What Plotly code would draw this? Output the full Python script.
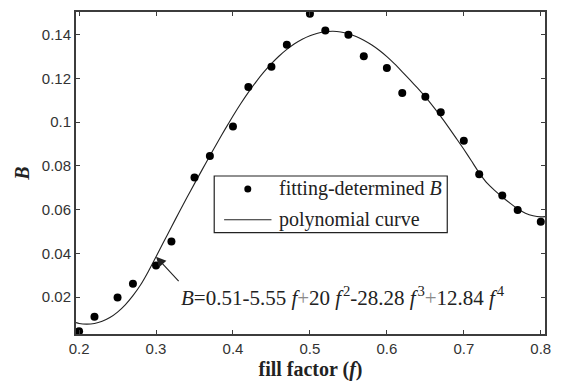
import plotly.graph_objects as go

# fill factor vs. fitted B
fill_factor = [0.20, 0.22, 0.25, 0.27, 0.30, 0.32, 0.35, 0.37, 0.40, 0.42, 0.45, 0.47, 0.50,
               0.52, 0.55, 0.57, 0.60, 0.62, 0.65, 0.67, 0.70, 0.72, 0.75, 0.77, 0.80]
fitted_B = [0.0045, 0.0111, 0.0199, 0.0262, 0.0345, 0.0455, 0.0747, 0.0845, 0.0980, 0.1160,
            0.1253, 0.1353, 0.1495, 0.1418, 0.1399, 0.1301, 0.1247, 0.1133, 0.1116, 0.1045,
            0.0915, 0.0762, 0.0665, 0.0599, 0.0545]

# polynomial curve samples
curve_f = [0.196, 0.20, 0.21, 0.22, 0.23, 0.24, 0.25, 0.26, 0.27, 0.28, 0.29, 0.30, 0.31, 0.32,
           0.33, 0.34, 0.35, 0.36, 0.37, 0.38, 0.39, 0.40, 0.41, 0.42, 0.43, 0.44, 0.45, 0.46,
           0.47, 0.48, 0.49, 0.50, 0.51, 0.52, 0.53, 0.54, 0.55, 0.56, 0.57, 0.58, 0.59, 0.60,
           0.61, 0.62, 0.63, 0.64, 0.65, 0.66, 0.67, 0.68, 0.69, 0.70, 0.71, 0.72, 0.73, 0.74,
           0.75, 0.76, 0.77, 0.78, 0.79, 0.80, 0.8055]
curve_B = [0.0084, 0.0080, 0.0077, 0.0080, 0.0090, 0.0107, 0.0132, 0.0165, 0.0207, 0.0257,
           0.0318, 0.0385, 0.0453, 0.0521, 0.0588, 0.0654, 0.0719, 0.0783, 0.0846, 0.0908,
           0.0969, 0.1028, 0.1084, 0.1136, 0.1184, 0.1228, 0.1267, 0.1302, 0.1332, 0.1358,
           0.1379, 0.1395, 0.1406, 0.1413, 0.1415, 0.1412, 0.1404, 0.1391, 0.1374, 0.1353,
           0.1328, 0.1299, 0.1266, 0.1230, 0.1193, 0.1155, 0.1115, 0.1072, 0.1026, 0.0977,
           0.0927, 0.0876, 0.0822, 0.0768, 0.0722, 0.0688, 0.0658, 0.0630, 0.0604, 0.0584,
           0.0572, 0.0567, 0.0568]

x_ticks = [0.2, 0.3, 0.4, 0.5, 0.6, 0.7, 0.8]
y_ticks = [0.02, 0.04, 0.06, 0.08, 0.10, 0.12, 0.14]
y_tick_text = ["0.02", "0.04", "0.06", "0.08", "0.1", "0.12", "0.14"]

SERIF = "Liberation Serif, Times New Roman, serif"
SANS = "Liberation Sans, Arial, sans-serif"
AXIS_COLOR = "#3c3c3c"

fig = go.Figure()
fig.add_trace(go.Scatter(x=curve_f, y=curve_B, mode="lines", name="polynomial curve",
                         line=dict(color="#222222", width=1.1, shape="spline", smoothing=0.6),
                         showlegend=False))
fig.add_trace(go.Scatter(x=fill_factor, y=fitted_B, mode="markers", name="fitting-determined B",
                         marker=dict(color="black", size=8), showlegend=False))

axis_common = dict(showgrid=False, zeroline=False, showline=True, linecolor=AXIS_COLOR,
                   linewidth=2, mirror="ticks", ticks="inside", ticklen=4, tickwidth=1,
                   tickcolor=AXIS_COLOR, tickfont=dict(family=SANS, size=15, color="#333333"))

fig.update_xaxes(range=[0.196, 0.8055], tickvals=x_ticks,
                 ticktext=[f"{v:.1f}" for v in x_ticks],
                 title=dict(text="<b>fill factor (<i>f</i>)</b>", standoff=6,
                            font=dict(family=SERIF, size=20, color="#222222")),
                 **axis_common)
fig.update_yaxes(range=[0.0032, 0.1503], tickvals=y_ticks, ticktext=y_tick_text,
                 title=dict(text="<b><i>B</i></b>", standoff=7,
                            font=dict(family=SERIF, size=20, color="#222222")),
                 **axis_common)

# hand-built legend box
legend_x0, legend_x1 = 0.2947, 0.7916
legend_y0, legend_y1 = 0.3148, 0.4907
row1_y, row2_y = 0.4506, 0.3549
fig.add_shape(type="rect", xref="paper", yref="paper", x0=legend_x0, x1=legend_x1,
              y0=legend_y0, y1=legend_y1, line=dict(color="#222222", width=1.2),
              fillcolor="white")
fig.add_shape(type="circle", xref="paper", yref="paper", xsizemode="pixel", ysizemode="pixel",
              xanchor=0.3663, yanchor=row1_y, x0=-3.5, x1=3.5, y0=-3.5, y1=3.5,
              fillcolor="black", line=dict(color="black", width=0))
fig.add_shape(type="line", xref="paper", yref="paper", x0=0.3158, x1=0.4168,
              y0=row2_y, y1=row2_y, line=dict(color="#222222", width=1.1))
fig.add_annotation(xref="paper", yref="paper", x=0.4295, y=row1_y, xanchor="left",
                   yanchor="middle", showarrow=False, text="fitting-determined <i>B</i>",
                   font=dict(family=SERIF, size=20, color="#222222"))
fig.add_annotation(xref="paper", yref="paper", x=0.4295, y=row2_y, xanchor="left",
                   yanchor="middle", showarrow=False, text="polynomial curve",
                   font=dict(family=SERIF, size=20, color="#222222"))

# equation and arrow pointing at the curve
plus = "<span style='color:#8a8a8a'>+</span>"
gap = "\u200a"
equation = ("<i>B</i>=0.51-5.55 <i>f</i>" + plus + "20 <i>f</i>" + gap + "<sup>2</sup>-28.28 <i>f</i>"
            + gap + "<sup>3</sup>" + plus + "12.84 <i>f</i>" + gap + "<sup>4</sup>")
fig.add_annotation(xref="paper", yref="paper", x=0.2189, y=0.1173, xanchor="left",
                   yanchor="middle", showarrow=False, text=equation,
                   font=dict(family=SERIF, size=21, color="#222222"))
arrow_i = curve_f.index(0.30)
fig.add_annotation(x=curve_f[arrow_i], y=curve_B[arrow_i], xref="x", yref="y", text="",
                   showarrow=True, arrowhead=2, arrowsize=1.8, arrowwidth=1.1,
                   arrowcolor="#222222", ax=24, ay=26, standoff=0)

fig.update_layout(width=561, height=387, margin=dict(l=76, r=10, t=12, b=51),
                  paper_bgcolor="white", plot_bgcolor="white")

fig.write_html("out.html")
